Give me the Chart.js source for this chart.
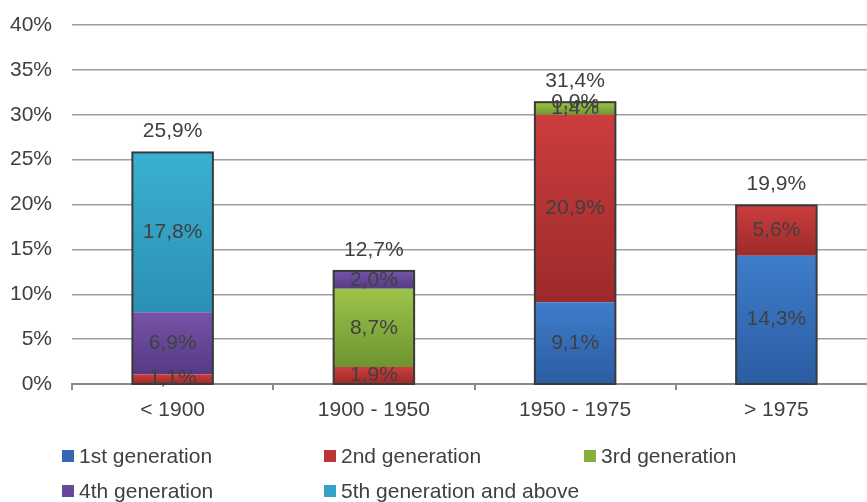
<!DOCTYPE html>
<html>
<head>
<meta charset="utf-8">
<script src="https://cdn.jsdelivr.net/npm/chart.js@4/dist/chart.umd.min.js"></script>
<style>
html,body{margin:0;padding:0;background:#fff;overflow:hidden;}
#wrap{width:877px;height:502px;}
</style>
</head>
<body>
<div id="wrap"><canvas id="c" width="877" height="502"></canvas></div>
<script>
const categories = ['< 1900', '1900 - 1950', '1950 - 1975', '> 1975'];
const gen1 = [null, null, 9.1, 14.3];
const gen2 = [1.1, 1.9, 20.9, 5.6];
const gen3 = [null, 8.7, 1.4, null];
const gen4 = [6.9, 2.0, 0.0, null];
const gen5 = [17.8, null, null, null];
const totals = [25.9, 12.7, 31.4, 19.9];
const seriesNames = ['1st generation', '2nd generation', '3rd generation', '4th generation', '5th generation and above'];
const yMin = 0, yMax = 40, yStep = 5;

const palette = [
  {top: '#3e7dca', bot: '#2b5ca2', mid: '#3468b4'},
  {top: '#cc3d3d', bot: '#9c2a2a', mid: '#bb3535'},
  {top: '#9cc449', bot: '#6e9431', mid: '#86ae3d'},
  {top: '#7653a8', bot: '#553a83', mid: '#68489a'},
  {top: '#3ab0d1', bot: '#2b90b6', mid: '#33a2c5'}
];
const FONT = '"Liberation Sans", Arial, sans-serif';
const FS = 21;
const TXT = '#404040';
const allSeries = [gen1, gen2, gen3, gen4, gen5];

function fmt(v){ return v.toFixed(1).replace('.', ',') + '%'; }

function segColor(i){
  return function(ctx){
    const chart = ctx.chart;
    const y = chart.scales && chart.scales.y;
    if (!chart.chartArea || !y || ctx.type !== 'data') return palette[i].mid;
    let base = 0;
    for (let k = 0; k < i; k++) base += allSeries[k][ctx.dataIndex] || 0;
    const v = allSeries[i][ctx.dataIndex] || 0;
    const yt = y.getPixelForValue(base + v), yb = y.getPixelForValue(base);
    if (!isFinite(yt) || !isFinite(yb) || yb - yt < 1) return palette[i].mid;
    const g = chart.ctx.createLinearGradient(0, yt, 0, yb);
    g.addColorStop(0, palette[i].top);
    g.addColorStop(1, palette[i].bot);
    return g;
  };
}

const datasets = allSeries.map((d, i) => ({
  label: seriesNames[i],
  data: d,
  backgroundColor: segColor(i),
  borderWidth: 0,
  categoryPercentage: 1.0,
  barPercentage: 0.40
}));

const overlay = {
  id: 'overlay',
  afterDatasetsDraw(chart){
    const ctx = chart.ctx;
    const y = chart.scales.y;
    ctx.save();
    categories.forEach((c, j) => {
      let el = null;
      for (let i = 0; i < datasets.length; i++) {
        const e = chart.getDatasetMeta(i).data[j];
        if (e && allSeries[i][j] !== null) { el = e; break; }
      }
      if (!el) return;
      let sum = 0;
      allSeries.forEach(s => sum += s[j] || 0);
      const yt = y.getPixelForValue(sum), yb = y.getPixelForValue(0);
      ctx.strokeStyle = '#3a3a3a';
      ctx.lineWidth = 2;
      ctx.strokeRect(el.x - el.width / 2, yt, el.width, yb - yt);
    });
    ctx.font = FS + 'px ' + FONT;
    ctx.fillStyle = TXT;
    ctx.textAlign = 'center';
    ctx.textBaseline = 'middle';
    allSeries.forEach((s, i) => {
      const meta = chart.getDatasetMeta(i);
      s.forEach((v, j) => {
        if (v === null) return;
        const e = meta.data[j];
        ctx.fillText(fmt(v), e.x, (e.y + e.base) / 2);
      });
    });
    categories.forEach((c, j) => {
      let sum = 0;
      allSeries.forEach(s => sum += s[j] || 0);
      const e = chart.getDatasetMeta(1).data[j];
      ctx.fillText(fmt(totals[j]), e.x, y.getPixelForValue(sum) - 21);
    });
    ctx.restore();
  },
  afterDraw(chart){
    const ctx = chart.ctx;
    const cols = [62, 324, 584];
    const rows = [456, 491];
    ctx.save();
    ctx.font = FS + 'px ' + FONT;
    ctx.textBaseline = 'middle';
    ctx.textAlign = 'left';
    seriesNames.forEach((n, i) => {
      const x = cols[i % 3], yy = rows[Math.floor(i / 3)];
      ctx.fillStyle = palette[i].mid;
      ctx.fillRect(x, yy - 6, 12, 12);
      ctx.fillStyle = TXT;
      ctx.fillText(n, x + 17, yy + 1);
    });
    ctx.restore();
  }
};

new Chart(document.getElementById('c'), {
  type: 'bar',
  data: { labels: categories, datasets: datasets },
  options: {
    responsive: false,
    animation: false,
    layout: { padding: { top: 25, right: 0, bottom: 0, left: 0 } },
    plugins: { legend: { display: false }, tooltip: { enabled: false } },
    scales: {
      x: {
        stacked: true,
        offset: true,
        grid: { display: true, drawOnChartArea: false, drawTicks: true, tickLength: 6, color: '#8a8a8a', lineWidth: 2, offset: true },
        border: { display: true, color: '#8a8a8a', width: 2 },
        ticks: { color: TXT, font: { family: FONT, size: FS }, padding: 8, maxRotation: 0 },
        afterFit(scale){ scale.height = 118; scale.paddingLeft = 0; scale.paddingRight = 0; }
      },
      y: {
        stacked: true,
        min: yMin, max: yMax,
        grid: { color: '#9e9e9e', lineWidth: 1.5, drawTicks: false },
        border: { display: false },
        ticks: { stepSize: yStep, color: TXT, font: { family: FONT, size: FS }, padding: 20, callback: v => v + '%' },
        afterFit(scale){ scale.width = 72; scale.paddingTop = 0; scale.paddingBottom = 0; }
      }
    }
  },
  plugins: [overlay]
});
</script>
</body>
</html>
